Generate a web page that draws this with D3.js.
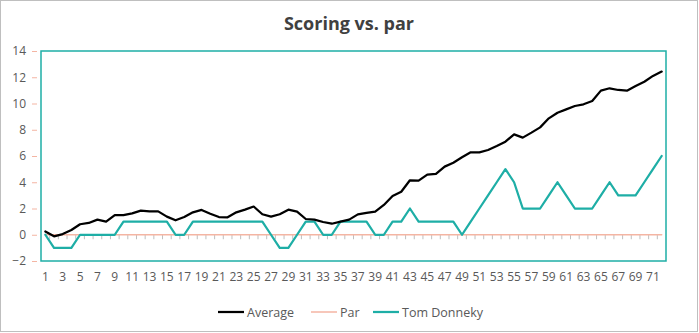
<!DOCTYPE html>
<html><head><meta charset="utf-8">
<script src="https://cdn.jsdelivr.net/npm/d3@7"></script>
<style>
html,body{margin:0;padding:0;background:#fff;}
svg{display:block;font-family:"Open Sans","Noto Sans",sans-serif;}
</style></head>
<body>
<svg id="chart" width="699" height="333"></svg>
<script>
const holes = d3.range(1, 73);
const average = [0.25,-0.12,0.05,0.36,0.8,0.9,1.15,1.0,1.5,1.5,1.63,1.84,1.78,1.78,1.38,1.1,1.35,1.71,1.89,1.6,1.35,1.33,1.71,1.91,2.15,1.56,1.38,1.56,1.91,1.76,1.2,1.15,0.97,0.84,1.0,1.15,1.55,1.66,1.76,2.27,2.95,3.28,4.15,4.12,4.58,4.63,5.19,5.49,5.9,6.28,6.28,6.46,6.76,7.09,7.65,7.4,7.78,8.18,8.87,9.3,9.55,9.81,9.94,10.19,10.98,11.16,11.03,10.98,11.33,11.66,12.1,12.43];
const par = holes.map(() => 0);
const tom = [0,-1,-1,-1,0,0,0,0,0,1,1,1,1,1,1,0,0,1,1,1,1,1,1,1,1,1,0,-1,-1,0,1,1,0,0,1,1,1,1,0,0,1,1,2,1,1,1,1,1,0,1,2,3,4,5,4,2,2,2,3,4,3,2,2,2,3,4,3,3,3,4,5,6];
const yTicks = [-2,0,2,4,6,8,10,12,14];
const xLabels = holes.filter(h => h % 2 === 1);
const seriesNames = ["Average","Par","Tom Donneky"];
const seriesColors = ["#000000","#f4b5a3","#1eaea6"];
const seriesWidths = [2.25,1.5,2.25];
const title = "Scoring vs. par";

const svg = d3.select("#chart");
svg.append("rect").attr("x",0.5).attr("y",0.5).attr("width",697).attr("height",331)
  .attr("fill","#fff").attr("stroke","#bfbfbf");

const L = 41, R = 666, T = 51, B = 261;
const x = d3.scaleBand().domain(holes).range([L,R]).padding(0);
const cx = d => x(d) + x.bandwidth()/2;
const y = d3.scaleLinear().domain([-2,14]).range([B,T]);

svg.append("text").attr("x",349).attr("y",30).attr("text-anchor","middle")
  .attr("font-size",18).attr("font-weight",700).attr("fill","#404040").text(title);

// y axis labels
const yAxis = d3.axisLeft(y).tickValues(yTicks).tickSize(4).tickPadding(10).tickFormat(d3.format("d"));
const gy = svg.append("g").attr("transform",`translate(${L-1},0)`).call(yAxis);
gy.select(".domain").remove();
gy.selectAll(".tick line").attr("stroke","#f4b5a3").attr("x2",-3).attr("x1",-8);
gy.selectAll("text").attr("font-size",12).attr("fill","#595959")
  .attr("font-family","'Open Sans','Noto Sans',sans-serif");

// x tick marks along zero line
const bounds = holes.slice(1).map(h => x(h));
svg.append("g").selectAll("line").data(bounds).join("line")
  .attr("x1",d=>d).attr("x2",d=>d).attr("y1",y(0)).attr("y2",y(0)+4.5)
  .attr("stroke","#bfbfbf").attr("stroke-width",1);

// x labels at bottom
svg.append("g").selectAll("text").data(xLabels).join("text")
  .attr("x",d=>cx(d)).attr("y",281).attr("text-anchor","middle")
  .attr("font-size",12).attr("fill","#595959").text(d=>d);

// lines
const line = d3.line().x((d,i)=>cx(holes[i])).y(d=>y(d));
const data = [average, par, tom];
// draw par first, then tom, then average
[1,2,0].forEach(k => {
  svg.append("path").datum(data[k]).attr("d",line).attr("fill","none")
    .attr("stroke",seriesColors[k]).attr("stroke-width",seriesWidths[k])
    .attr("stroke-linejoin","round").attr("stroke-linecap","round");
});

// plot frame
svg.append("rect").attr("x",L).attr("y",T).attr("width",R-L).attr("height",B-T)
  .attr("fill","none").attr("stroke","#1eaea6").attr("stroke-width",1.5);

// legend
const legX = [218,311,373];
const lg = svg.append("g");
seriesNames.forEach((n,i) => {
  lg.append("line").attr("x1",legX[i]).attr("x2",legX[i]+26).attr("y1",312).attr("y2",312)
    .attr("stroke",seriesColors[i]).attr("stroke-width",seriesWidths[i]);
  lg.append("text").attr("x",legX[i]+29).attr("y",316.5).attr("font-size",12.5)
    .attr("fill","#595959").text(n);
});
</script>
</body></html>
